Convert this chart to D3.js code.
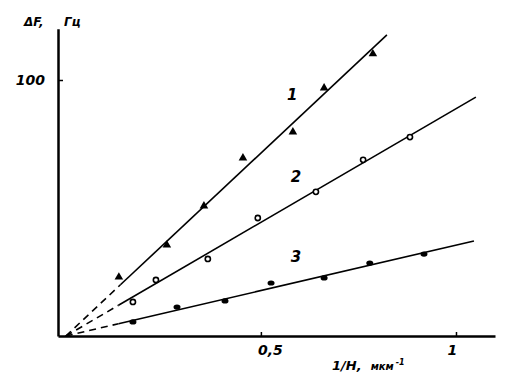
<!DOCTYPE html>
<html>
<head>
<meta charset="utf-8">
<script src="https://cdn.jsdelivr.net/npm/d3@7"></script>
<style>
  body { margin: 0; background: #fff; }
  text { font-family: "DejaVu Sans", sans-serif; font-weight: bold; font-style: italic; fill: #000; }
</style>
</head>
<body>
<div id="chart"></div>
<script>
// data (1/H in мкм^-1, dF in Гц)
var series1 = [[0.136, 23.0], [0.259, 35.5], [0.354, 50.8], [0.454, 69.5], [0.582, 79.7], [0.662, 96.9], [0.787, 110.2]];
var series2 = [[0.172, 13.3], [0.231, 21.9], [0.364, 30.1], [0.492, 46.1], [0.641, 56.3], [0.762, 68.8], [0.882, 77.7]];
var series3 = [[0.172, 5.5], [0.285, 11.3], [0.408, 13.7], [0.526, 20.7], [0.662, 22.7], [0.779, 28.5], [0.918, 32.0]];

// fitted lines: slope, x where the solid part starts, x where it ends
var slopes = [142.9, 88.8, 35.5];
var solidFrom = [0.14, 0.135, 0.135];
var lineEnd = [0.823, 1.051, 1.046];
var lineLabels = ["1", "2", "3"];
var labelPos = [[0.58, 92], [0.59, 60], [0.59, 29]];

var xTicks = [0.5, 1];
var yTicks = [100];

var width = 525, height = 379;

var svg = d3.select("#chart")
  .append("svg")
    .attr("width", width)
    .attr("height", height);

var x = d3.scaleLinear()
  .domain([-0.02, 1.1])
  .range([58, 495]);

var y = d3.scaleLinear()
  .domain([0, 120])
  .range([336, 28.8]);

// X axis
var xAxis = svg.append("g")
  .attr("transform", "translate(0," + y(0) + ")")
  .call(d3.axisBottom(x)
    .tickValues(xTicks)
    .tickSizeInner(-4)
    .tickSizeOuter(0)
    .tickPadding(9)
    .tickFormat(function(d) { return String(d).replace(".", ","); }));
xAxis.select(".domain").attr("stroke-width", 2.5);
xAxis.selectAll(".tick line").attr("stroke-width", 1.5);
xAxis.selectAll(".tick text")
  .attr("font-size", 14)
  .attr("dx", function(d) { return d === 1 ? -4 : 9; })
  .style("font-family", "DejaVu Sans")
  .style("font-weight", "bold")
  .style("font-style", "italic");

// Y axis
var yAxis = svg.append("g")
  .attr("transform", "translate(" + x(-0.02) + ",0)")
  .call(d3.axisLeft(y)
    .tickValues(yTicks)
    .tickSizeInner(-5)
    .tickSizeOuter(0)
    .tickPadding(13));
yAxis.select(".domain").attr("stroke-width", 2.5);
yAxis.selectAll(".tick line").attr("stroke-width", 1.5);
yAxis.selectAll(".tick text")
  .attr("font-size", 14)
  .style("font-family", "DejaVu Sans")
  .style("font-weight", "bold")
  .style("font-style", "italic");

// lines: dashed from origin, solid afterwards
slopes.forEach(function(k, i) {
  svg.append("line")
    .attr("x1", x(0)).attr("y1", y(0))
    .attr("x2", x(solidFrom[i])).attr("y2", y(k * solidFrom[i]))
    .attr("stroke", "#000")
    .attr("stroke-width", 1.6)
    .attr("stroke-dasharray", "7,5");
  svg.append("line")
    .attr("x1", x(solidFrom[i])).attr("y1", y(k * solidFrom[i]))
    .attr("x2", x(lineEnd[i])).attr("y2", y(k * lineEnd[i]))
    .attr("stroke", "#000")
    .attr("stroke-width", 1.6);
  svg.append("text")
    .attr("x", x(labelPos[i][0]))
    .attr("y", y(labelPos[i][1]))
    .attr("text-anchor", "middle")
    .attr("font-size", 15)
    .text(lineLabels[i]);
});

// triangles
svg.append("g")
  .selectAll("path")
  .data(series1)
  .enter()
  .append("path")
    .attr("transform", function(d) { return "translate(" + x(d[0]) + "," + y(d[1]) + ")"; })
    .attr("d", d3.symbol().type(d3.symbolTriangle).size(32))
    .attr("fill", "#000");

// open circles
svg.append("g")
  .selectAll("circle")
  .data(series2)
  .enter()
  .append("circle")
    .attr("cx", function(d) { return x(d[0]); })
    .attr("cy", function(d) { return y(d[1]); })
    .attr("r", 2.6)
    .attr("fill", "#fff")
    .attr("stroke", "#000")
    .attr("stroke-width", 1.6);

// filled dots
svg.append("g")
  .selectAll("ellipse")
  .data(series3)
  .enter()
  .append("ellipse")
    .attr("cx", function(d) { return x(d[0]); })
    .attr("cy", function(d) { return y(d[1]); })
    .attr("rx", 3.5)
    .attr("ry", 2.6)
    .attr("fill", "#000");

// axis titles
var yt = svg.append("text")
  .attr("y", 26)
  .attr("font-size", 12);
yt.append("tspan").attr("x", 24).text("ΔF,");
yt.append("tspan").attr("x", 64).text("Гц");

var xt = svg.append("text")
  .attr("x", 332)
  .attr("y", 370);
xt.append("tspan").attr("font-size", 13).text("1/H,");
xt.append("tspan").attr("font-size", 10).attr("dx", 9).text("мкм");
xt.append("tspan").attr("font-size", 8).attr("dy", -5).attr("dx", 2).text("-1");
</script>
</body>
</html>
